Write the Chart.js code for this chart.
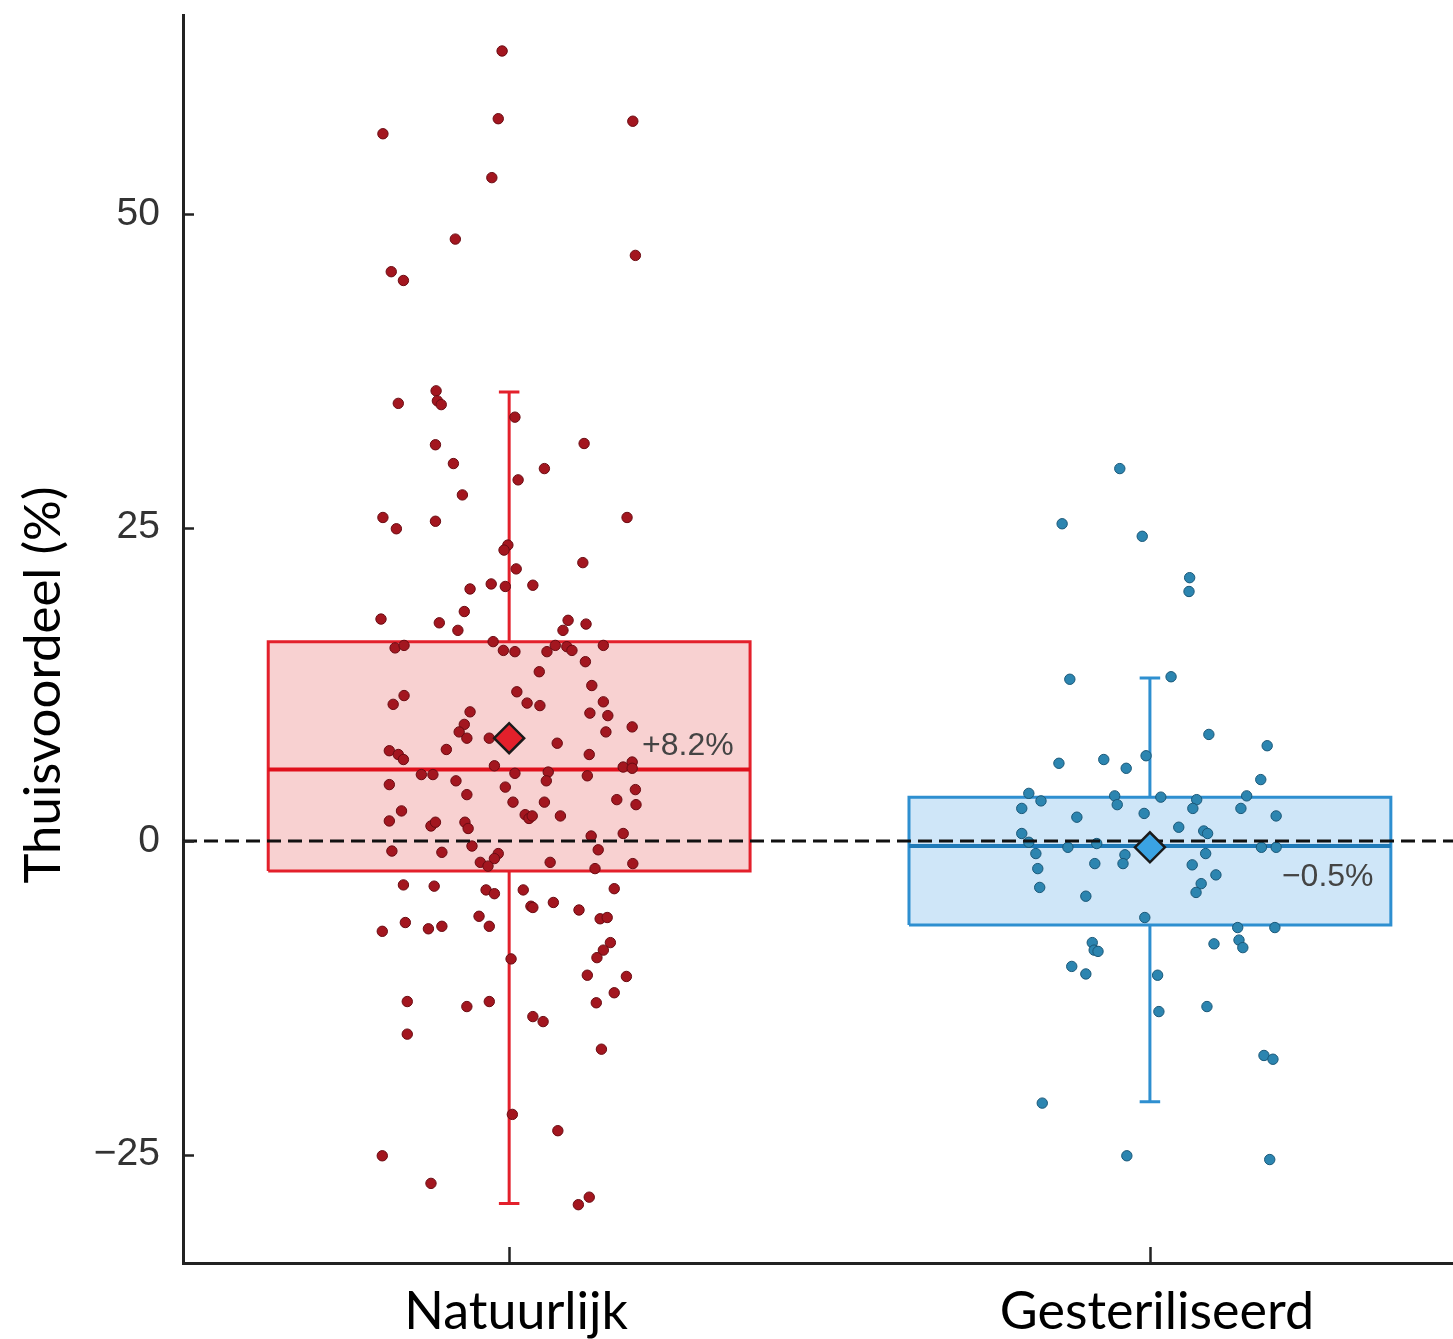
<!DOCTYPE html>
<html><head><meta charset="utf-8">
<script src="https://cdn.jsdelivr.net/npm/chart.js@4.4.1/dist/chart.umd.min.js"></script>
<style>html,body{margin:0;padding:0;background:#fff;}canvas{display:block;}</style>
</head><body>
<canvas id="c" width="1453" height="1339"></canvas>
<script>
// ---------- data ----------
const categories = ['Natuurlijk', 'Gesteriliseerd'];
const categoryPos = [1, 2];
const yTickValues = [-25, 0, 25, 50];
const yTitle = 'Thuisvoordeel (%)';

const natJitter = [-0.011,-0.017,0.193,-0.197,-0.027,-0.084,0.197,-0.184,-0.165,-0.114,-0.173,-0.112,-0.106,0.009,-0.115,0.117,-0.087,0.055,0.014,-0.073,-0.197,-0.176,-0.115,0.184,-0.002,-0.008,0.011,0.115,-0.061,-0.028,-0.006,0.037,-0.200,-0.070,-0.109,0.092,0.120,-0.080,0.084,-0.178,-0.164,-0.025,-0.009,0.009,0.059,0.072,0.090,0.098,0.147,0.119,0.047,0.129,0.012,0.028,0.048,-0.164,-0.181,0.147,0.126,0.154,-0.061,-0.070,-0.078,-0.066,-0.031,0.192,0.151,0.075,-0.187,-0.173,-0.165,-0.098,0.125,-0.023,-0.137,-0.119,0.009,0.061,0.122,0.178,0.192,0.192,-0.187,-0.083,0.058,-0.006,0.197,-0.066,0.168,0.198,0.006,0.055,-0.168,-0.187,-0.122,-0.115,0.080,0.025,0.031,0.036,-0.069,-0.064,0.128,0.178,-0.058,-0.183,-0.105,0.139,-0.017,-0.023,-0.045,-0.033,0.064,0.134,0.193,-0.165,-0.117,-0.036,-0.023,0.022,0.164,0.034,0.037,0.069,0.109,0.142,0.153,-0.047,-0.031,-0.162,-0.198,-0.126,-0.105,0.158,0.147,0.137,0.003,0.122,0.183,0.164,0.136,-0.159,-0.066,-0.031,0.037,0.053,-0.159,0.144,0.005,0.076,-0.198,-0.122,0.108,0.125];
const natValues = [63.0,57.6,57.4,56.4,52.9,48.0,46.7,45.4,44.7,35.9,34.9,35.1,34.8,33.8,31.6,31.7,30.1,29.7,28.8,27.6,25.8,24.9,25.5,25.8,23.6,23.2,21.7,22.2,20.1,20.5,20.3,20.4,17.7,18.3,17.4,17.6,17.3,16.8,16.8,15.4,15.6,15.9,15.2,15.1,15.1,15.6,15.5,15.2,15.6,14.3,13.5,12.4,11.9,11.0,10.8,11.6,10.9,11.1,10.2,10.0,10.3,9.3,8.7,8.2,8.2,9.1,8.7,7.8,7.2,6.9,6.5,7.3,6.9,6.0,5.3,5.3,5.4,5.5,5.2,5.9,6.3,5.8,4.5,4.8,4.8,4.3,4.1,3.7,3.3,2.9,3.1,3.1,2.4,1.6,1.2,1.5,2.0,2.1,1.8,2.0,1.5,1.0,0.4,0.6,-0.4,-0.8,-0.9,-0.7,-1.0,-1.4,-1.7,-2.0,-1.7,-2.2,-1.8,-3.5,-3.6,-3.9,-4.2,-3.9,-3.8,-5.2,-5.3,-4.9,-5.5,-6.2,-6.1,-6.0,-6.8,-6.5,-7.2,-7.0,-6.8,-8.1,-8.7,-9.3,-9.4,-10.7,-10.8,-12.1,-12.9,-12.8,-13.2,-12.8,-14.0,-14.4,-15.4,-16.6,-21.8,-23.1,-25.1,-27.3,-29.0,-28.4];

const sterJitter = [-0.047,-0.137,-0.012,0.062,0.061,-0.125,0.033,0.092,0.183,-0.142,-0.072,-0.037,-0.006,0.173,-0.189,-0.170,-0.055,-0.051,0.017,0.073,0.067,0.151,0.142,-0.200,-0.114,-0.009,0.197,0.045,0.084,0.090,-0.200,-0.189,-0.178,-0.128,-0.083,-0.039,-0.042,0.087,0.174,0.197,-0.086,-0.175,0.066,0.103,-0.172,-0.100,0.080,0.072,-0.008,0.137,0.195,-0.090,-0.087,-0.081,0.139,0.145,0.100,-0.122,-0.100,0.012,0.014,0.089,0.178,0.192,-0.168,-0.036,0.187];
const sterValues = [29.7,25.3,24.3,21.0,19.9,12.9,13.1,8.5,7.6,6.2,6.5,5.8,6.8,4.9,3.8,3.2,3.6,2.9,3.5,3.3,2.6,3.6,2.6,2.6,1.9,2.2,2.0,1.1,0.8,0.6,0.6,-0.1,-1.0,-0.5,-0.2,-1.1,-1.8,-1.0,-0.5,-0.5,-1.8,-2.2,-1.9,-2.7,-3.7,-4.4,-3.4,-4.1,-6.1,-6.9,-6.9,-8.1,-8.7,-8.8,-7.9,-8.5,-8.2,-10.0,-10.6,-10.7,-13.6,-13.2,-17.1,-17.4,-20.9,-25.1,-25.4];

// box statistics per category
const whiskerLow  = [-28.9, -20.8];
const boxQ1       = [-2.4, -6.7];
const boxMedian   = [5.7, -0.4];
const boxQ3       = [15.9, 3.5];
const whiskerHigh = [35.8, 13.0];
const means       = [8.2, -0.5];
const meanLabels  = ['+8.2%', '\u22120.5%'];
const meanLabelAnchorX = [1.2075, 2.206];
const meanLabelAnchorY = [7.6, -2.9];

// ---------- styles ----------
const BOX_HALF = 0.376;
const CAP_HALF = 0.016;
const X_MIN = 0.491, X_MAX = 2.473, Y_MIN = -33.65, Y_MAX = 65.87;
const dotFill = ['#a3161f', '#2c85b0'];
const dotEdge = ['#6a0b12', '#1a5878'];
const boxEdge = ['#e3202b', '#2e8fd0'];
const boxFill = ['#f8d1d1', '#cfe6f8'];
const medCol  = ['#e0101c', '#1f7ab8'];
const diaFill = ['#e3202b', '#3aa3e3'];

function pts(center, jit, vals) {
  const n = Math.min(jit.length, vals.length);
  const out = [];
  for (let i = 0; i < n; i++) out.push({x: center + jit[i], y: vals[i]});
  return out;
}

const datasets = [];
categoryPos.forEach((c, i) => {
  datasets.push({
    label: 'box' + i, type: 'line', order: 10,
    data: [{x:c-BOX_HALF,y:boxQ1[i]},{x:c+BOX_HALF,y:boxQ1[i]},{x:c+BOX_HALF,y:boxQ3[i]},{x:c-BOX_HALF,y:boxQ3[i]},{x:c-BOX_HALF,y:boxQ1[i]}],
    borderColor: boxEdge[i], backgroundColor: boxFill[i], borderWidth: 3, fill: 'shape',
    pointRadius: 0, tension: 0
  });
  datasets.push({
    label: 'whisker' + i, type: 'line', order: 9, spanGaps: false,
    data: [{x:c-CAP_HALF,y:whiskerLow[i]},{x:c+CAP_HALF,y:whiskerLow[i]},{x:c,y:null},
           {x:c,y:whiskerLow[i]},{x:c,y:boxQ1[i]},{x:c,y:null},
           {x:c,y:boxQ3[i]},{x:c,y:whiskerHigh[i]},{x:c,y:null},
           {x:c-CAP_HALF,y:whiskerHigh[i]},{x:c+CAP_HALF,y:whiskerHigh[i]}],
    borderColor: boxEdge[i], borderWidth: 3, fill: false, pointRadius: 0, tension: 0
  });
  datasets.push({
    label: 'median' + i, type: 'line', order: 8,
    data: [{x:c-BOX_HALF,y:boxMedian[i]},{x:c+BOX_HALF,y:boxMedian[i]}],
    borderColor: medCol[i], borderWidth: 4, fill: false, pointRadius: 0
  });
});
datasets.push({
  label: categories[0], type: 'line', order: 7, showLine: false,
  data: pts(categoryPos[0], natJitter, natValues),
  pointRadius: 5.2, pointBackgroundColor: dotFill[0], pointBorderColor: dotEdge[0], pointBorderWidth: 1
});
datasets.push({
  label: categories[1], type: 'line', order: 6, showLine: false,
  data: pts(categoryPos[1], sterJitter, sterValues),
  pointRadius: 5.2, pointBackgroundColor: dotFill[1], pointBorderColor: dotEdge[1], pointBorderWidth: 1
});
datasets.push({
  label: 'zero', type: 'line', order: 5,
  data: [{x:X_MIN,y:0},{x:X_MAX,y:0}],
  borderColor: '#111', borderWidth: 3, borderDash: [14, 7], pointRadius: 0, fill: false
});
categoryPos.forEach((c, i) => {
  datasets.push({
    label: 'mean' + i, type: 'line', order: 1, showLine: false,
    data: [{x: c, y: means[i]}],
    pointStyle: 'rectRot', pointRadius: 15, pointBackgroundColor: diaFill[i],
    pointBorderColor: '#1a1a1a', pointBorderWidth: 2.5
  });
});

const decor = {
  id: 'decor',
  afterDatasetsDraw(chart) {
    const {ctx, chartArea, scales: {x, y}} = chart;
    ctx.save();
    // inward tick marks
    ctx.strokeStyle = '#222'; ctx.lineWidth = 2.5;
    yTickValues.forEach(v => {
      const py = Math.round(y.getPixelForValue(v)) + 0.5;
      ctx.beginPath(); ctx.moveTo(chartArea.left, py); ctx.lineTo(chartArea.left + 11, py); ctx.stroke();
    });
    categoryPos.forEach(v => {
      const px = Math.round(x.getPixelForValue(v)) + 0.5;
      ctx.beginPath(); ctx.moveTo(px, chartArea.bottom); ctx.lineTo(px, chartArea.bottom - 16); ctx.stroke();
    });
    // mean labels
    ctx.fillStyle = '#444';
    ctx.font = '32px "Liberation Sans", Arial, sans-serif';
    ctx.textAlign = 'left'; ctx.textBaseline = 'middle';
    meanLabels.forEach((t, i) => {
      ctx.fillText(t, x.getPixelForValue(meanLabelAnchorX[i]), y.getPixelForValue(meanLabelAnchorY[i]));
    });
    // y axis title
    ctx.fillStyle = '#000';
    ctx.font = '51px Lato, "Open Sans", sans-serif';
    ctx.textAlign = 'center'; ctx.textBaseline = 'alphabetic';
    ctx.translate(60, 685);
    ctx.rotate(-Math.PI / 2);
    ctx.fillText(yTitle, 0, 0);
    ctx.restore();
  }
};

function zeroPad(s) { s.paddingTop = 0; s.paddingBottom = 0; s.paddingLeft = 0; s.paddingRight = 0; }

new Chart(document.getElementById('c'), {
  type: 'line',
  data: { datasets },
  options: {
    responsive: false, animation: false, devicePixelRatio: 1,
    layout: { autoPadding: false, padding: { top: 15, left: 0, right: 0, bottom: 0 } },
    plugins: { legend: { display: false }, tooltip: { enabled: false } },
    scales: {
      x: {
        type: 'linear', min: X_MIN, max: X_MAX,
        afterBuildTicks: s => { s.ticks = categoryPos.map(v => ({ value: v })); },
        afterFit: s => { s.height = 76; zeroPad(s); },
        grid: { display: false, drawTicks: false },
        border: { display: true, color: '#222', width: 3 },
        ticks: {
          autoSkip: false, maxRotation: 0, padding: 18, labelOffset: 7, color: '#000',
          font: { family: 'Lato, "Open Sans", sans-serif', size: 52 },
          callback: v => categories[categoryPos.indexOf(v)] || ''
        }
      },
      y: {
        type: 'linear', min: Y_MIN, max: Y_MAX,
        afterBuildTicks: s => { s.ticks = yTickValues.map(v => ({ value: v })); },
        afterFit: s => { s.width = 183; zeroPad(s); },
        grid: { display: false, drawTicks: false },
        border: { display: true, color: '#222', width: 3 },
        ticks: {
          padding: 23, color: '#333',
          font: { family: '"Liberation Sans", Arial, sans-serif', size: 39 },
          callback: v => v < 0 ? '\u2212' + Math.abs(v) : String(v)
        }
      }
    }
  },
  plugins: [decor]
});
</script>
</body></html>
